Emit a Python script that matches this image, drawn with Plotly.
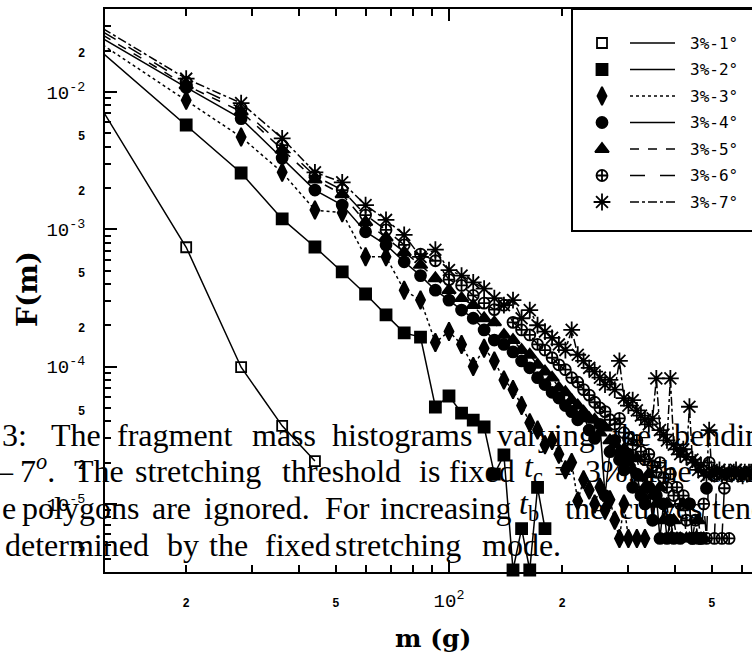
import plotly.graph_objects as go

# fragment mass bin centres (g)
mass = [12, 20, 28, 36, 44, 52, 60, 68, 76, 84,
        92, 100, 108, 116, 124, 132, 140, 148, 156, 164,
        172, 180, 188, 196, 204, 212, 220, 228, 236, 244,
        252, 260, 268, 276, 284, 292, 300, 308, 316, 324,
        332, 340, 348, 356, 364, 372, 380, 388, 396, 404,
        412, 420, 428, 436, 444, 452, 460, 468, 476, 484,
        492, 500, 508, 516, 524, 532, 540, 548, 556, 564,
        572, 580, 588, 596, 604, 612, 620, 628, 636]

# F(m) for stretching threshold 3% and bending threshold 1..7 degrees
f_1deg = [7.3e-3, 7.4e-4, 9.9e-5, 3.7e-5, 2.05e-5]

f_2deg = [1.92e-2, 5.75e-3, 2.57e-3, 1.19e-3, 7.43e-4, 4.89e-4, 3.38e-4, 2.38e-4, 1.76e-4, 1.64e-4,
          5.08e-5, 6.11e-5, 4.59e-5, 4.08e-5, 3.63e-5, 1.65e-5, 2.27e-5, 3.3e-6, 6.6e-6, 3.3e-6,
          1.32e-5, 6.6e-6]

f_3deg = [2.2e-2, 8.7e-3, 4.7e-3, 2.6e-3, 1.38e-3, 1.32e-3, 6.3e-4, 6.3e-4, 3.6e-4, 3.05e-4,
          1.5e-4, 1.8e-4, 1.45e-4, 1.0e-4, 1.36e-4, 1.1e-4, 8.0e-5, 6.8e-5, 5.2e-5, 3.9e-5,
          3.45e-5, 2.7e-5, 2.9e-5, 2.3e-5, 1.77e-5, 2.0e-5, 1.05e-5, 1.5e-5, 1.26e-5, 1.0e-5,
          1.32e-5, 9.0e-6, 1.07e-5, 7.6e-6, 5.6e-6, 1.0e-5, 5.6e-6, None, 5.6e-6, None,
          5.6e-6]

f_4deg = [2.45e-2, 1.08e-2, 6.4e-3, 3.3e-3, 1.93e-3, 1.5e-3, 9.6e-4, 7.7e-4, 5.8e-4, 4.6e-4,
          3.6e-4, 3.05e-4, 2.58e-4, 2.25e-4, 1.85e-4, 1.56e-4, 1.45e-4, 1.28e-4, 1.1e-4, 9.8e-5,
          8.3e-5, 7.4e-5, 6.5e-5, 5.9e-5, 5.2e-5, 4.7e-5, 4.1e-5, 4.4e-5, 3.45e-5, 3.0e-5,
          3.8e-5, 1.15e-5, 2.4e-5, 2.9e-5, 2.1e-5, 1.77e-5, 2.3e-5, 1.32e-5, 1.65e-5, 1.15e-5,
          1.0e-5, 1.32e-5, 7.6e-6, 1.15e-5, 5.6e-6, 1.0e-5, 5.6e-6, 7.6e-6, 5.6e-6, None,
          5.6e-6, None, None, 1.0e-5, 5.6e-6, None, None, 5.6e-6, None, 1.3e-5]

f_5deg = [2.6e-2, 1.12e-2, 7.2e-3, 3.8e-3, 2.3e-3, 1.8e-3, 1.13e-3, 8.7e-4, 6.8e-4, 5.5e-4,
          4.4e-4, 3.6e-4, 3.15e-4, 2.8e-4, 2.25e-4, 2.1e-4, 1.7e-4, 1.56e-4, 1.32e-4, 1.22e-4,
          1.03e-4, 9.2e-5, 8.3e-5, 7.0e-5, 6.5e-5, 5.7e-5, 5.2e-5, 4.7e-5, 4.2e-5, 4.1e-5,
          3.3e-5, 3.6e-5, 2.9e-5, 2.7e-5, 2.4e-5, 2.5e-5, 2.0e-5, 1.77e-5, 2.15e-5, 1.55e-5,
          1.32e-5, 1.65e-5, 1.15e-5, 1.0e-5, 1.32e-5, 7.6e-6, 1.0e-5, 5.6e-6, 7.6e-6, 5.6e-6,
          5.6e-6, 1.0e-5, 5.6e-6, 5.6e-6, None, 5.6e-6, 7.6e-6, 5.6e-6, 5.6e-6]

f_6deg = [2.75e-2, 1.18e-2, 7.6e-3, 4.1e-3, 2.45e-3, 1.93e-3, 1.27e-3, 9.9e-4, 7.7e-4, 6.6e-4,
          5.9e-4, 4.3e-4, 3.9e-4, 3.3e-4, 2.9e-4, 2.6e-4, 2.8e-4, 2.1e-4, 1.85e-4, 1.7e-4,
          1.45e-4, 1.32e-4, 1.16e-4, 1.03e-4, 9.5e-5, 8.3e-5, 7.7e-5, 6.8e-5, 6.2e-5, 5.5e-5,
          5.0e-5, 4.7e-5, 4.1e-5, 3.8e-5, 4.2e-5, 3.3e-5, 3.0e-5, 2.7e-5, 2.9e-5, 2.4e-5,
          2.1e-5, 2.3e-5, 1.9e-5, 1.7e-5, 2.0e-5, 1.55e-5, 1.32e-5, 1.65e-5, 1.15e-5, 1.32e-5,
          1.0e-5, 1.15e-5, 7.6e-6, 1.0e-5, 5.6e-6, 7.6e-6, 5.6e-6, 5.6e-6, 1.0e-5, 5.6e-6,
          2.0e-5, None, 5.6e-6, 1.65e-5, None, 5.6e-6, 1.3e-5, None, 5.6e-6]

f_7deg = [2.9e-2, 1.25e-2, 8.3e-3, 4.6e-3, 2.6e-3, 2.2e-3, 1.5e-3, 1.17e-3, 9.1e-4, 6.3e-4,
          7.1e-4, 5.05e-4, 4.6e-4, 4.1e-4, 3.7e-4, 3.15e-4, 2.8e-4, 3.05e-4, 2.25e-4, 2.58e-4,
          2.0e-4, 1.8e-4, 1.62e-4, 1.45e-4, 1.32e-4, 1.85e-4, 1.22e-4, 1.1e-4, 9.8e-5, 9.2e-5,
          8.3e-5, 7.4e-5, 8.0e-5, 6.8e-5, 1.1e-4, 5.9e-5, 5.2e-5, 5.7e-5, 4.8e-5, 4.4e-5,
          4.1e-5, 3.8e-5, 4.2e-5, 8.2e-5, 3.45e-5, 3.2e-5, 2.9e-5, 8.2e-5, 2.7e-5, 2.5e-5,
          2.3e-5, 2.5e-5, 2.2e-5, 5.1e-5, 2.1e-5, 2.0e-5, 1.77e-5, 1.9e-5, 1.7e-5, 1.6e-5,
          3.45e-5, 1.7e-5, 1.65e-5, 1.7e-5, 1.77e-5, 1.65e-5, 1.7e-5, 1.6e-5, 1.7e-5, 1.65e-5,
          1.7e-5, 1.77e-5, 1.65e-5, 1.7e-5, 1.6e-5, 1.7e-5, 1.65e-5, 1.7e-5, 1.7e-5]

series_labels = ["3%-1°", "3%-2°", "3%-3°", "3%-4°", "3%-5°", "3%-6°", "3%-7°"]
series_values = [f_1deg, f_2deg, f_3deg, f_4deg, f_5deg, f_6deg, f_7deg]

# axis tick labels
x_tick_vals = [20, 50, 100, 200, 500]
x_tick_text = ["2", "5", "10<sup>2</sup>", "2", "5"]
x_minor_vals = [30, 40, 60, 70, 80, 90, 300, 400, 600]
y_tick_vals = [2e-2, 1e-2, 5e-3, 2e-3, 1e-3, 5e-4, 2e-4, 1e-4, 5e-5, 2e-5, 1e-5, 5e-6]
y_tick_text = ["2", "10<sup>-2</sup>", "5", "2", "10<sup>-3</sup>", "5", "2",
               "10<sup>-4</sup>", "5", "2", "10<sup>-5</sup>", "5"]
y_minor_vals = [3e-2, 4e-2, 9e-3, 8e-3, 7e-3, 6e-3, 4e-3, 3e-3,
                9e-4, 8e-4, 7e-4, 6e-4, 4e-4, 3e-4,
                9e-5, 8e-5, 7e-5, 6e-5, 4e-5, 3e-5,
                9e-6, 8e-6, 7e-6, 6e-6, 4e-6]
decade_x = [100]
decade_y = [1e-2, 1e-3, 1e-4, 1e-5]

# drawing styles per series
symbols = ["square-open", "square", "diamond-tall", "circle", "triangle-up",
           "circle-cross-open", "asterisk-open"]
sizes = [10, 11, 13, 11, 12, 11, 14]
dashes = ["solid", "solid", "dot", "solid", "dash", "longdash", "dashdot"]

W, H = 752, 656
ML, MR, MT, MB = 105, 0, 9, 84
PW, PH = W - ML - MR, H - MT - MB


def px_x(px):
    return (px - ML) / PW


def px_y(py):
    return (H - MB - py) / PH


def small(t):
    return "<span style='font-size:12px'><b>%s</b></span>" % t


fig = go.Figure()

for lab, vals, sym, sz, dash in zip(series_labels, series_values, symbols, sizes, dashes):
    fig.add_trace(go.Scatter(
        x=mass[:len(vals)], y=vals, name=lab, mode="lines+markers",
        line=dict(color="black", width=1.5, dash=dash),
        marker=dict(symbol=sym, size=sz, color="black",
                    line=dict(color="black", width=1.8)),
        cliponaxis=False, showlegend=False, connectgaps=False))

# carrier for the long decade ticks
fig.add_trace(go.Scatter(x=[None], y=[None], xaxis="x3", yaxis="y3",
                         showlegend=False, hoverinfo="skip"))

# hand-built key in the upper right corner (pixel-like coordinates)
key_left, key_bottom = 572, 231
row0, row_step = 43, 26.5
for i, (lab, sym, sz, dash) in enumerate(zip(series_labels, symbols, sizes, dashes)):
    ry = row0 + row_step * i
    fig.add_trace(go.Scatter(
        x=[602], y=[ry], mode="markers", xaxis="x2", yaxis="y2",
        marker=dict(symbol=sym, size=sz, color="black", line=dict(color="black", width=1.8)),
        showlegend=False, hoverinfo="skip"))
    fig.add_trace(go.Scatter(
        x=[630, 675], y=[ry, ry], mode="lines", xaxis="x2", yaxis="y2",
        line=dict(color="black", width=1.5, dash=dash),
        showlegend=False, hoverinfo="skip"))
    fig.add_annotation(x=688, y=ry, xref="x2", yref="y2", text=lab, showarrow=False,
                       xanchor="left", yanchor="middle",
                       font=dict(family="DejaVu Sans Mono", size=16, color="black"))

fig.add_shape(type="rect", xref="paper", yref="paper",
              x0=px_x(key_left), x1=1.1, y0=px_y(key_bottom), y1=1.0,
              line=dict(color="black", width=2))

# axis titles
fig.add_annotation(x=px_x(433), y=px_y(638), xref="paper", yref="paper", text="<b>m (g)</b>",
                   showarrow=False, xanchor="center", yanchor="middle",
                   font=dict(family="DejaVu Serif", size=25, color="black"))
fig.add_annotation(x=px_x(27), y=px_y(289), xref="paper", yref="paper", text="<b>F(m)</b>",
                   showarrow=False, textangle=-90, xanchor="center", yanchor="middle",
                   font=dict(family="DejaVu Serif", size=28, color="black"))

# caption lines laid over the figure
caption_lines = [
    (447, [(0, "3:"), (49, "The"), (115, "fragment"), (250, "mass"), (330, "histograms"),
           (495, "varying"), (610, "the"), (672, "bending")]),
    (483, [(-6, "–"), (18, "7<sup><i>o</i></sup>."), (72, "The"), (133, "stretching"),
           (280, "threshold"), (417, "is"), (447, "fixed"), (522, "<i>t</i><sub>c</sub>"),
           (552, "="), (583, "3%."), (640, "The"), (705, "con")]),
    (520, [(0, "e"), (20, "polygons"), (150, "are"), (202, "ignored."), (323, "For"),
           (378, "increasing"), (517, "<i>t</i><sub>b</sub>"), (563, "the"),
           (617, "curves"), (710, "tend")]),
    (557, [(3, "determined"), (165, "by"), (207, "the"), (263, "fixed"),
           (333, "stretching"), (480, "mode.")]),
]
for baseline, words in caption_lines:
    for wx, word in words:
        fig.add_annotation(x=px_x(wx), y=px_y(baseline + 8), xref="paper", yref="paper",
                           text=word, showarrow=False, xanchor="left", yanchor="bottom",
                           font=dict(family="Liberation Serif", size=32, color="black"))

axis_font = dict(family="Liberation Mono", size=19, color="black")

fig.update_layout(
    width=W, height=H,
    margin=dict(l=ML, r=MR, t=MT, b=MB, pad=0),
    paper_bgcolor="white", plot_bgcolor="white",
    xaxis=dict(type="log", range=[1.0851, 2.8059], showgrid=False, zeroline=False,
               showline=True, linecolor="black", linewidth=2, mirror="ticks",
               ticks="inside", ticklen=7, tickwidth=1.5, tickcolor="black",
               tickvals=x_tick_vals, ticktext=[small(t) if len(t) == 1 else t for t in x_tick_text],
               tickfont=axis_font, ticklabelstandoff=10,
               minor=dict(tickvals=x_minor_vals, ticks="inside", ticklen=7,
                          tickwidth=1.5, tickcolor="black", showgrid=False)),
    yaxis=dict(type="log", range=[-5.496, -1.3955], showgrid=False, zeroline=False,
               showline=True, linecolor="black", linewidth=2, mirror=False,
               ticks="inside", ticklen=6, tickwidth=1.5, tickcolor="black",
               tickvals=y_tick_vals, ticktext=[small(t) if len(t) == 1 else t for t in y_tick_text],
               tickfont=axis_font, ticklabelstandoff=14,
               minor=dict(tickvals=y_minor_vals, ticks="inside", ticklen=6,
                          tickwidth=1.5, tickcolor="black", showgrid=False)),
    xaxis3=dict(type="log", range=[1.0851, 2.8059], overlaying="x", anchor="y3",
                showgrid=False, zeroline=False, showline=False, mirror="ticks",
                ticks="inside", ticklen=12, tickwidth=1.5, tickcolor="black",
                tickvals=decade_x, showticklabels=False),
    yaxis3=dict(type="log", range=[-5.496, -1.3955], overlaying="y", anchor="x3",
                showgrid=False, zeroline=False, showline=False,
                ticks="inside", ticklen=12, tickwidth=1.5, tickcolor="black",
                tickvals=decade_y, showticklabels=False),
    xaxis2=dict(domain=[px_x(key_left), 1.0], range=[key_left, W], visible=False,
                anchor="y2", fixedrange=True),
    yaxis2=dict(domain=[px_y(key_bottom), 1.0], range=[key_bottom, MT], visible=False,
                anchor="x2", fixedrange=True),
    showlegend=False,
)

fig.write_html("out.html")
